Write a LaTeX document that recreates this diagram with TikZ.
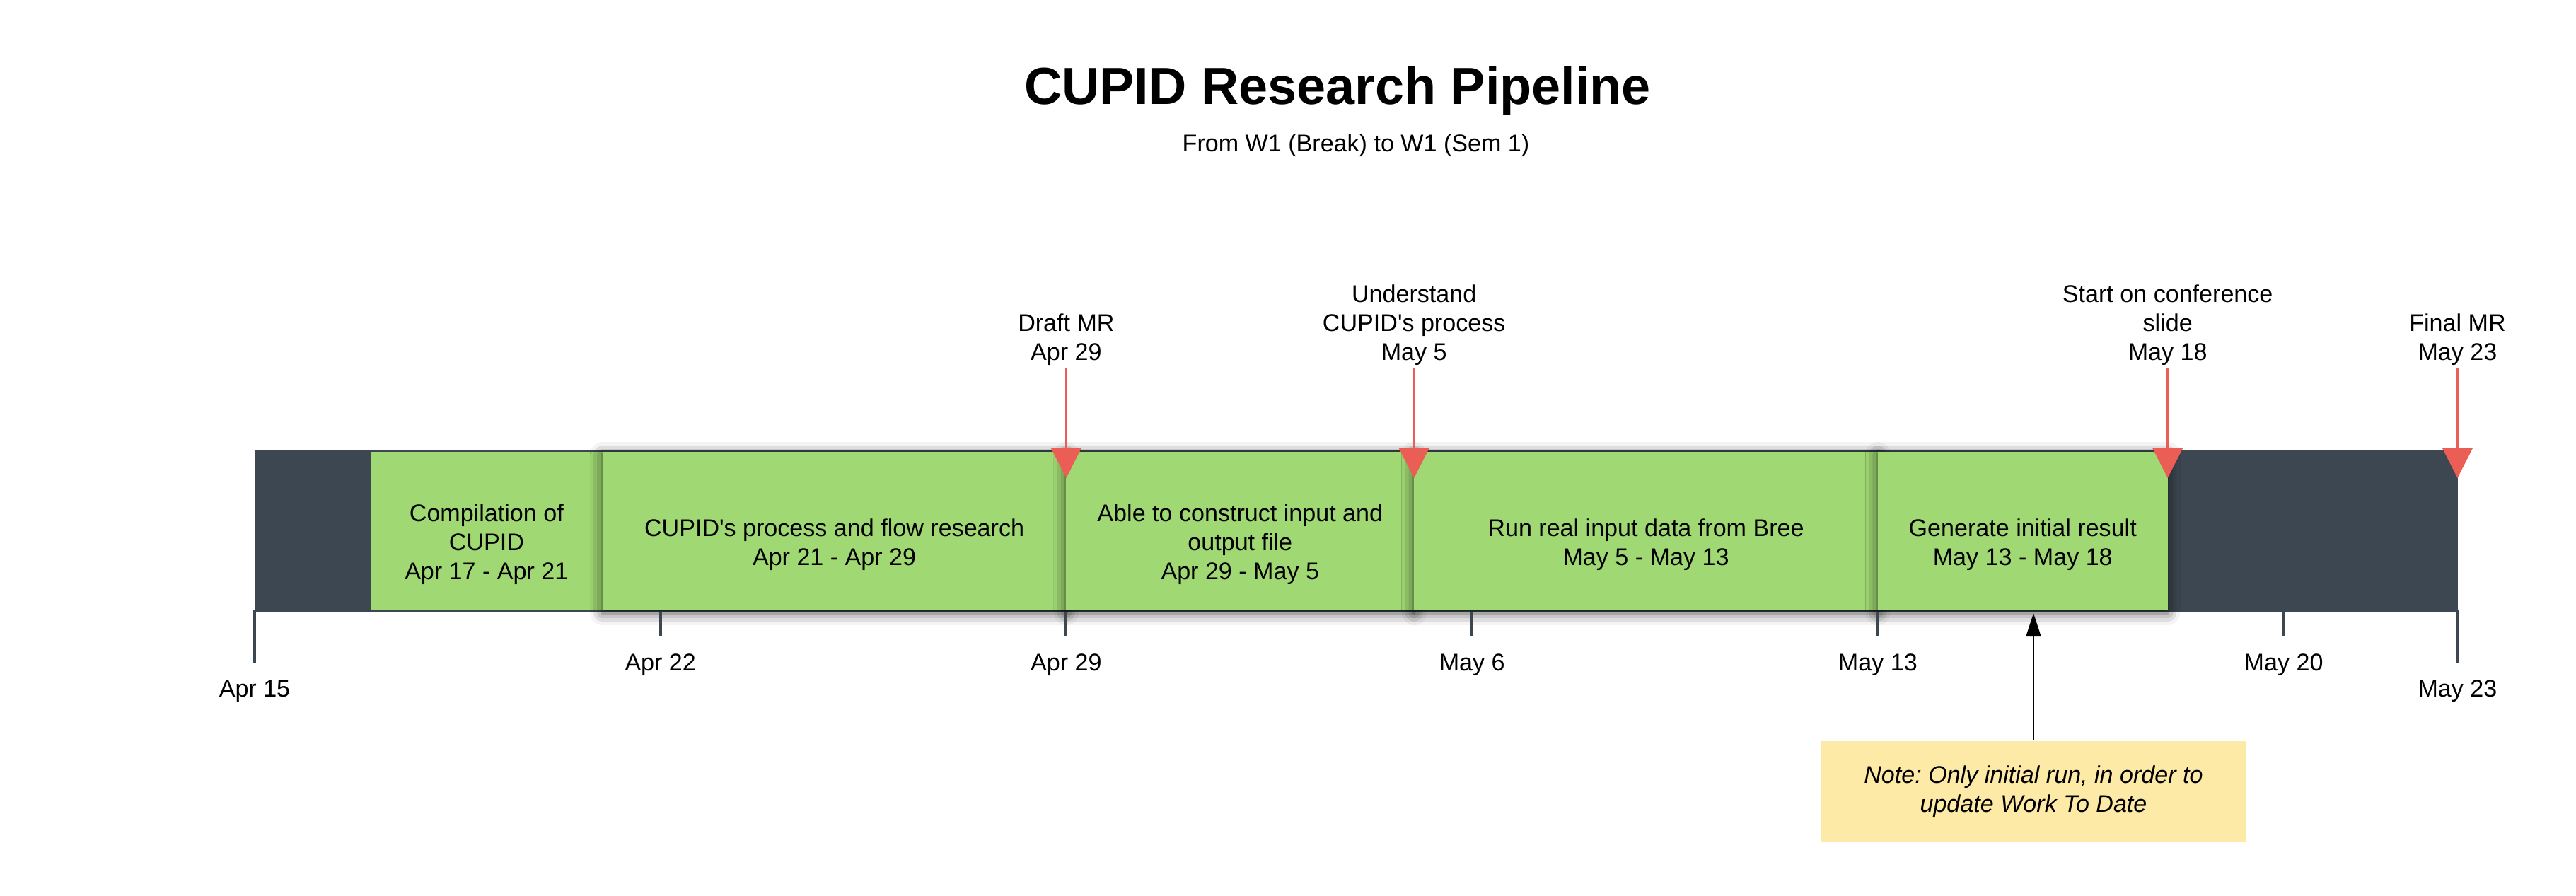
\documentclass[tikz,border=0pt]{standalone}
\usepackage{fontspec}
\setmainfont{Liberation Sans}[Ligatures=TeXOff]
\usetikzlibrary{arrows.meta,positioning,shadows.blur}
\definecolor{bardark}{RGB}{61,71,81}
\definecolor{taskgreen}{RGB}{160,217,116}
\definecolor{msred}{RGB}{235,94,85}
\definecolor{noteyellow}{RGB}{253,234,166}
\newcommand{\dx}[1]{3.6+0.8196*#1}
\newcommand{\bodyfont}{\fontsize{9.7pt}{11.67pt}\selectfont}
\frenchspacing

\begin{document}
\begin{tikzpicture}[font=\bodyfont, line cap=butt]
  \tikzstyle{task}=[draw=none,fill=taskgreen,minimum height=2.24cm,inner sep=0pt]
  \tikzstyle{shadowed}=[blur shadow={shadow xshift=0pt,shadow yshift=-1pt,shadow blur radius=5pt,shadow opacity=70}]
  \tikzstyle{tasktext}=[align=center,inner sep=0pt]
  \tikzstyle{mslabel}=[align=center,inner sep=0pt,anchor=south]
  \tikzstyle{msarrow}=[-{Triangle[width=0.43cm,length=0.43cm]},draw=msred,line width=0.03cm,shorten <=0.04cm]
  \tikzstyle{tick}=[draw=bardark,line width=0.04cm]
  \tikzstyle{ticklabel}=[anchor=base,inner sep=0pt]

  \useasboundingbox (0,0) rectangle (36.42,-12.66);

  \node[anchor=base,font=\fontsize{21pt}{25pt}\selectfont\bfseries] (title) at (18.91,-1.47) {CUPID Research Pipeline};
  \node[anchor=base] (subtitle) at (19.17,-2.14) {From W1 (Break) to W1 (Sem 1)};

  % timeline bar
  \node[fill=bardark,minimum width=31.145cm,minimum height=2.28cm,inner sep=0pt] (bar) at ({\dx{19}},-7.51) {};

  % tasks
  \pgfmathsetmacro\w{4*0.8196}
  \node[task,minimum width=\w cm] (task1) at ({\dx{4}},-7.51) {};
  \node[tasktext] (text1) at ([yshift=-0.19cm]task1.center) {Compilation of\\CUPID\\Apr 17 - Apr 21};
  \foreach \a/\b/\n/\t in {6/14/2/{CUPID's process and flow research\\Apr 21 - Apr 29},
                           14/20/3/{Able to construct input and\\output file\\Apr 29 - May 5},
                           20/28/4/{Run real input data from Bree\\May 5 - May 13},
                           28/33/5/{Generate initial result\\May 13 - May 18}}{
    \pgfmathsetmacro\w{(\b-\a)*0.8196}
    \node[task,shadowed,minimum width=\w cm] (task\n) at ({\dx{(\a+\b)/2}},-7.51) {};
    \node[tasktext] (text\n) at ([yshift=-0.19cm]task\n.center) {\t};
  }

  % axis ticks
  \foreach \d/\t in {7/Apr 22,14/Apr 29,21/May 6,28/May 13,35/May 20}{
    \draw[tick] ({\dx{\d}},-8.65) -- ({\dx{\d}},-8.99);
    \node[ticklabel] (day\d) at ({\dx{\d}},-9.48) {\t};
  }
  \foreach \d/\t in {0/Apr 15,38/May 23}{
    \draw[tick] ({\dx{\d}},-8.63) -- ({\dx{\d}},-9.38);
    \node[ticklabel] (day\d) at ({\dx{\d}},-9.85) {\t};
  }

  % milestones
  \foreach \d/\n/\t in {14/1/{Draft MR\\Apr 29},
                        20/2/{Understand\\CUPID's process\\May 5},
                        33/3/{Start on conference\\slide\\May 18},
                        38/4/{Final MR\\May 23}}{
    \coordinate (tip\n) at ({\dx{\d}},-6.76);
    \node[mslabel] (ms\n) at ({\dx{\d}},-5.17) {\t};
    \draw[msarrow] (ms\n) -- (tip\n);
  }

  % note
  \node[fill=noteyellow,minimum width=6.0cm,minimum height=1.42cm,align=center,font=\bodyfont\itshape] (note) at (28.75,-11.19) {Note: Only initial run, in order to\\update Work To Date};
  \coordinate (noteend) at (28.75,-8.67);
  \draw[-{Triangle[width=0.21cm,length=0.33cm]},line width=0.02cm] (note) -- (noteend);
\end{tikzpicture}
\end{document}
